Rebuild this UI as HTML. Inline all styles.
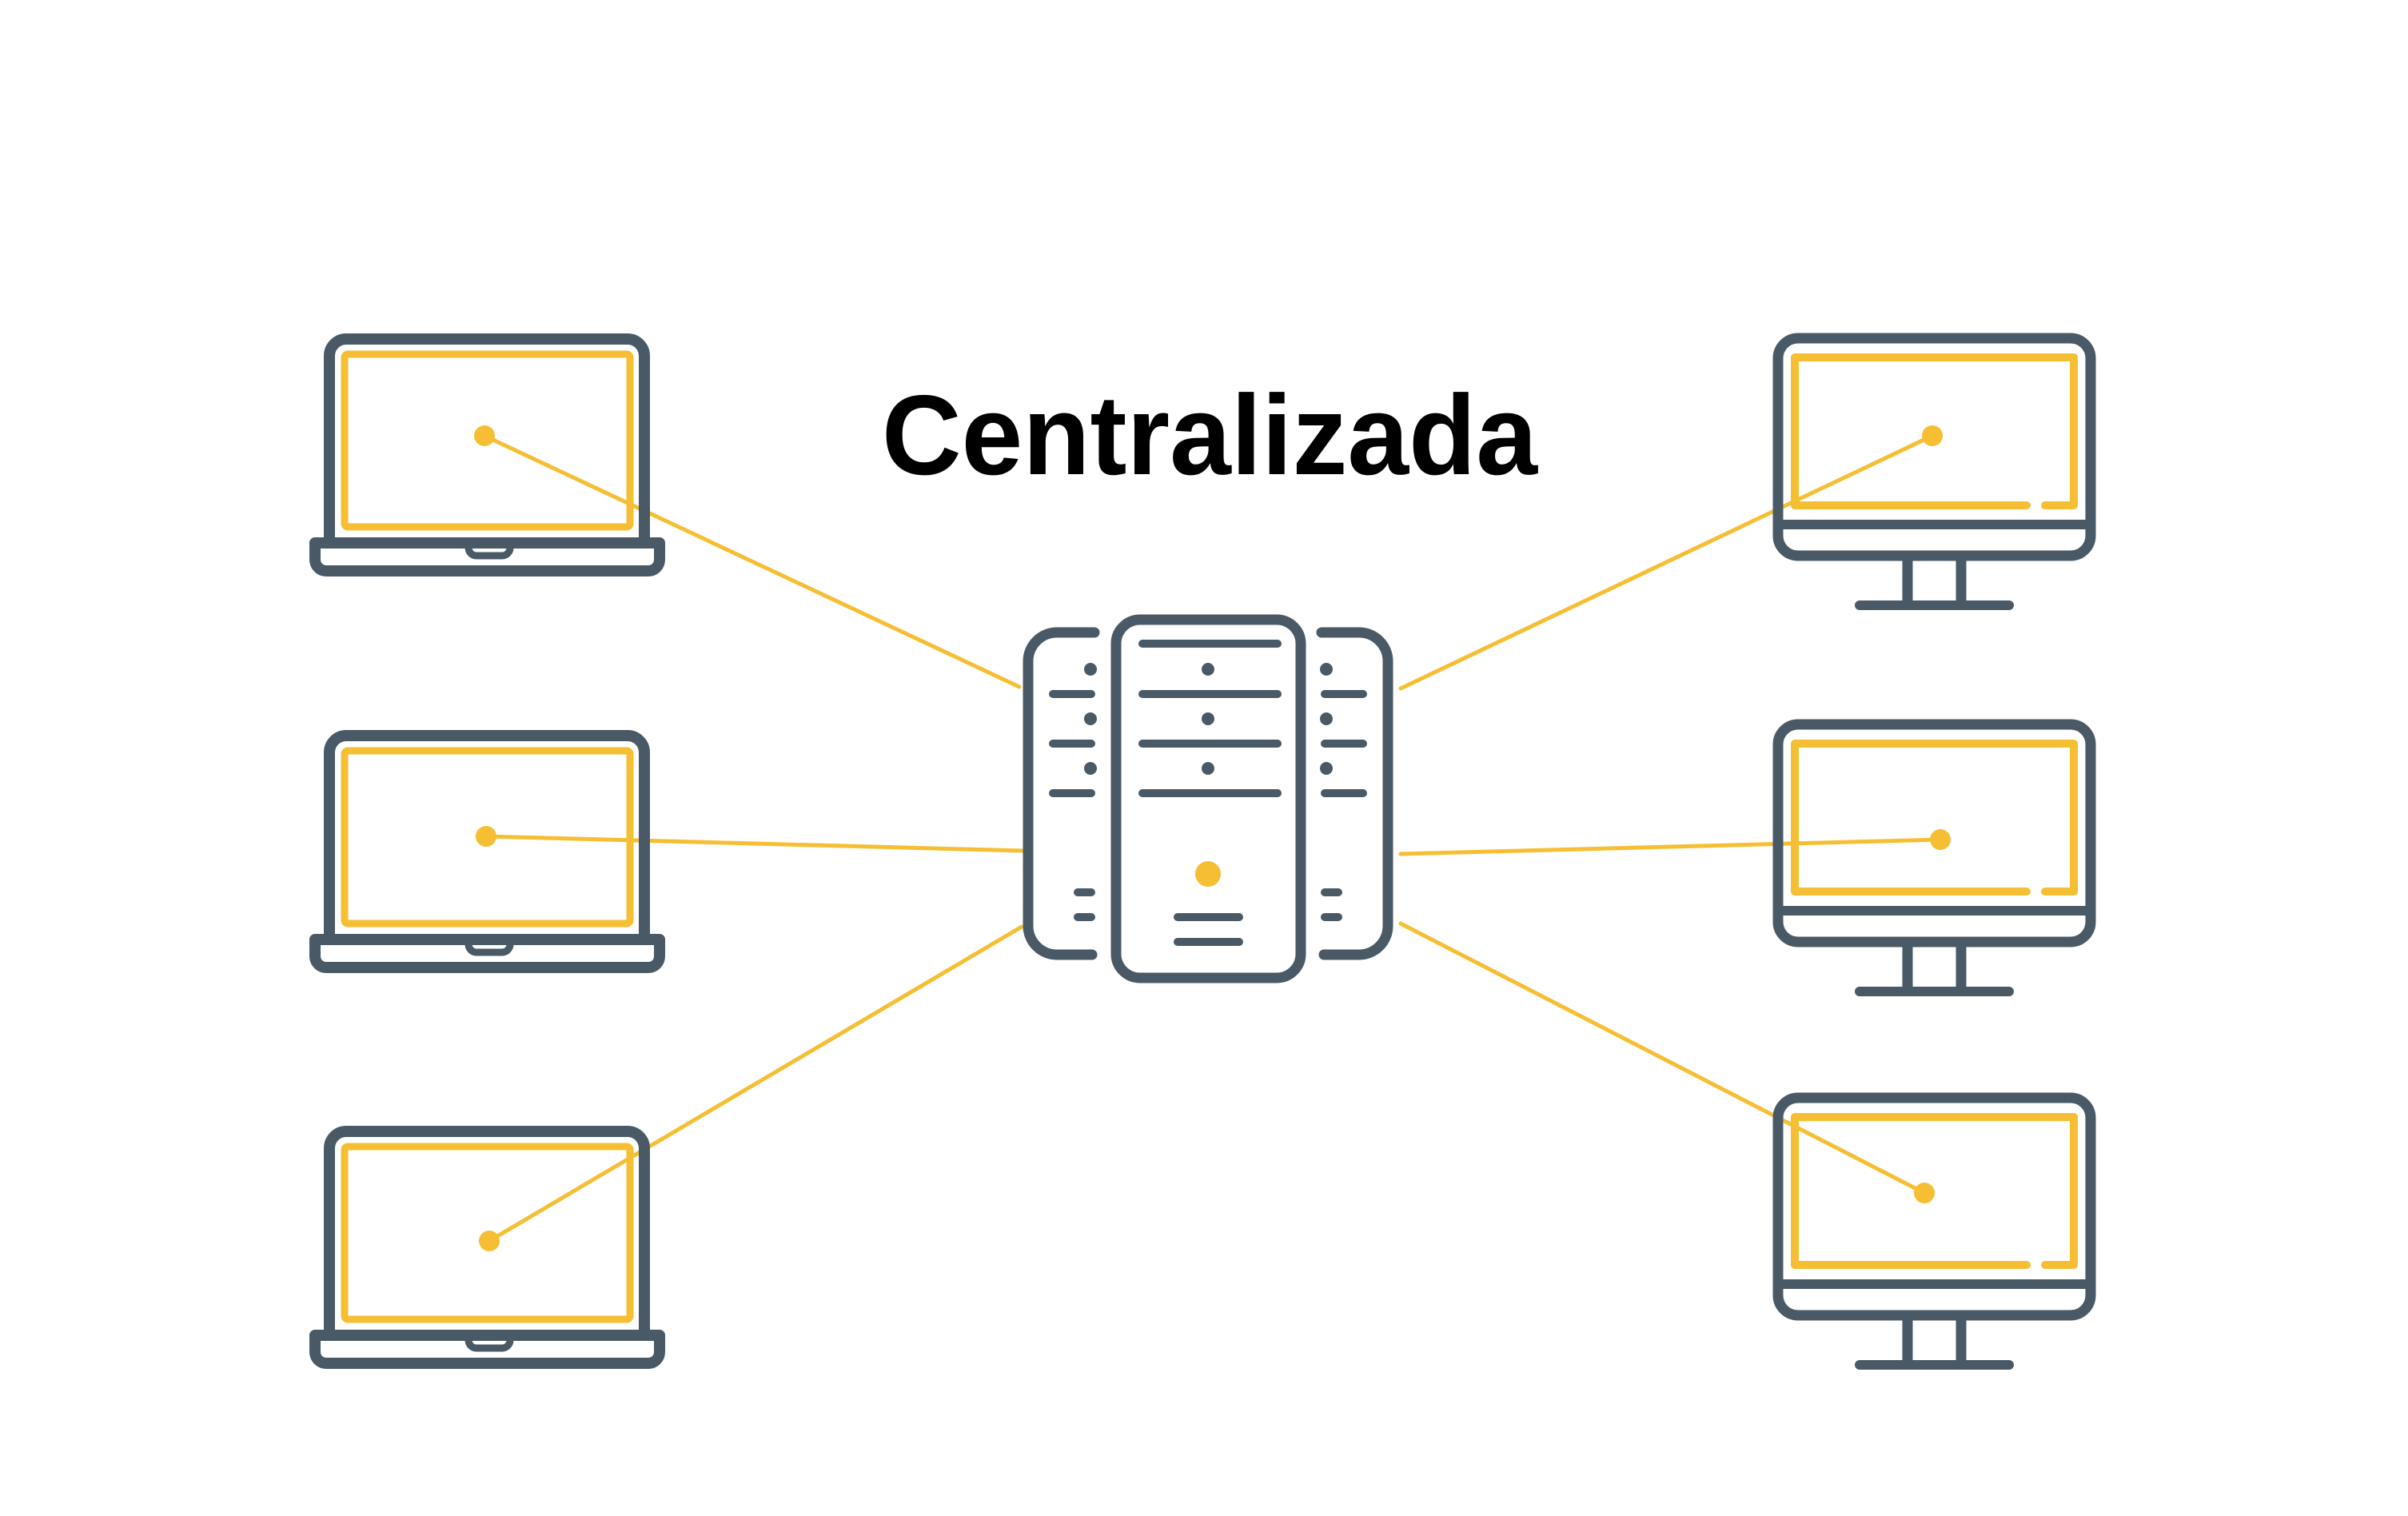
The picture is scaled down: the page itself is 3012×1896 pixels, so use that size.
<!DOCTYPE html>
<html><head><meta charset="utf-8"><style>html,body{margin:0;padding:0;background:#fff}svg{display:block}</style></head>
<body>
<svg width="3012" height="1896" viewBox="0 0 3012 1896" xmlns="http://www.w3.org/2000/svg">
<defs>
<g id="laptop">
  <path d="M412 672 V445 a21 21 0 0 1 21 -21 H785 a21 21 0 0 1 21 21 V672" fill="none" stroke="#495a66" stroke-width="14"/>
  <path d="M394 679 H825 V700 a14 14 0 0 1 -14 14 H408 a14 14 0 0 1 -14 -14 Z" fill="none" stroke="#495a66" stroke-width="14" stroke-linejoin="round"/>
  <path d="M586 679 v6 a10 10 0 0 0 10 10 h32 a10 10 0 0 0 10 -10 v-6" fill="none" stroke="#495a66" stroke-width="9"/>
  <rect x="431" y="443" width="357" height="216" rx="4" fill="none" stroke="#f6be33" stroke-width="9"/>
</g>
<g id="monitor">
  <rect x="2224" y="423" width="391" height="272" rx="25" fill="none" stroke="#495a66" stroke-width="13"/>
  <line x1="2224" y1="656" x2="2615" y2="656" stroke="#495a66" stroke-width="12"/>
  <line x1="2386" y1="700" x2="2386" y2="752" stroke="#495a66" stroke-width="13"/>
  <line x1="2453" y1="700" x2="2453" y2="752" stroke="#495a66" stroke-width="13"/>
  <line x1="2326" y1="757" x2="2513" y2="757" stroke="#495a66" stroke-width="12" stroke-linecap="round"/>
  <path d="M2535 632 H2245 V447 H2594 V632 H2558" fill="none" stroke="#f6be33" stroke-width="10" stroke-linecap="round" stroke-linejoin="round"/>
</g>
</defs>

<g stroke="#f6be33" stroke-linecap="round">
  <line x1="606" y1="545" x2="1275" y2="859" stroke-width="5"/>
  <line x1="608" y1="1046" x2="1280" y2="1064" stroke-width="5"/>
  <line x1="612" y1="1552" x2="1278" y2="1159" stroke-width="5"/>
  <line x1="2417" y1="545" x2="1752" y2="861" stroke-width="5"/>
  <line x1="2427" y1="1050" x2="1752" y2="1068" stroke-width="5"/>
  <line x1="2407" y1="1492" x2="1752" y2="1155" stroke-width="5"/>
</g>

<use href="#laptop"/>
<use href="#laptop" y="496"/>
<use href="#laptop" y="991"/>
<use href="#monitor"/>
<use href="#monitor" y="483"/>
<use href="#monitor" y="950"/>

<g fill="#f6be33">
  <circle cx="606" cy="545" r="13"/>
  <circle cx="608" cy="1046" r="13"/>
  <circle cx="612" cy="1552" r="13"/>
  <circle cx="2417" cy="545" r="13"/>
  <circle cx="2427" cy="1050" r="13"/>
  <circle cx="2407" cy="1492" r="13"/>
</g>

<g fill="none" stroke="#495a66" stroke-width="13" stroke-linecap="round">
  <path d="M1369 791 H1322 a36 36 0 0 0 -36 36 V1158 a36 36 0 0 0 36 36 H1366"/>
  <path d="M1653 791 H1700 a36 36 0 0 1 36 36 V1158 a36 36 0 0 1 -36 36 H1656"/>
  <rect x="1396" y="775" width="231" height="448" rx="30"/>
  <line x1="1429" y1="805" x2="1598" y2="805" stroke-width="10"/>
  <line x1="1429" y1="868" x2="1598" y2="868" stroke-width="10"/>
  <line x1="1429" y1="930" x2="1598" y2="930" stroke-width="10"/>
  <line x1="1429" y1="992" x2="1598" y2="992" stroke-width="10"/>
  <line x1="1473" y1="1147" x2="1550" y2="1147" stroke-width="10"/>
  <line x1="1473" y1="1178" x2="1550" y2="1178" stroke-width="10"/>
  <line x1="1317" y1="868" x2="1365" y2="868" stroke-width="10"/>
  <line x1="1317" y1="930" x2="1365" y2="930" stroke-width="10"/>
  <line x1="1317" y1="992" x2="1365" y2="992" stroke-width="10"/>
  <line x1="1348" y1="1116" x2="1365" y2="1116" stroke-width="10"/>
  <line x1="1348" y1="1147" x2="1365" y2="1147" stroke-width="10"/>
  <line x1="1657" y1="868" x2="1705" y2="868" stroke-width="10"/>
  <line x1="1657" y1="930" x2="1705" y2="930" stroke-width="10"/>
  <line x1="1657" y1="992" x2="1705" y2="992" stroke-width="10"/>
  <line x1="1657" y1="1116" x2="1674" y2="1116" stroke-width="10"/>
  <line x1="1657" y1="1147" x2="1674" y2="1147" stroke-width="10"/>
</g>
<g fill="#495a66">
  <circle cx="1511" cy="837" r="8"/><circle cx="1511" cy="899" r="8"/><circle cx="1511" cy="961" r="8"/>
  <circle cx="1364" cy="837" r="8"/><circle cx="1364" cy="899" r="8"/><circle cx="1364" cy="961" r="8"/>
  <circle cx="1659" cy="837" r="8"/><circle cx="1659" cy="899" r="8"/><circle cx="1659" cy="961" r="8"/>
</g>
<circle cx="1511" cy="1093" r="16" fill="#f6be33"/>

<text x="1103" y="593" font-family="Liberation Sans, sans-serif" font-weight="bold" font-size="142" fill="#000" textLength="820" lengthAdjust="spacingAndGlyphs">Centralizada</text>
</svg>
</body></html>
